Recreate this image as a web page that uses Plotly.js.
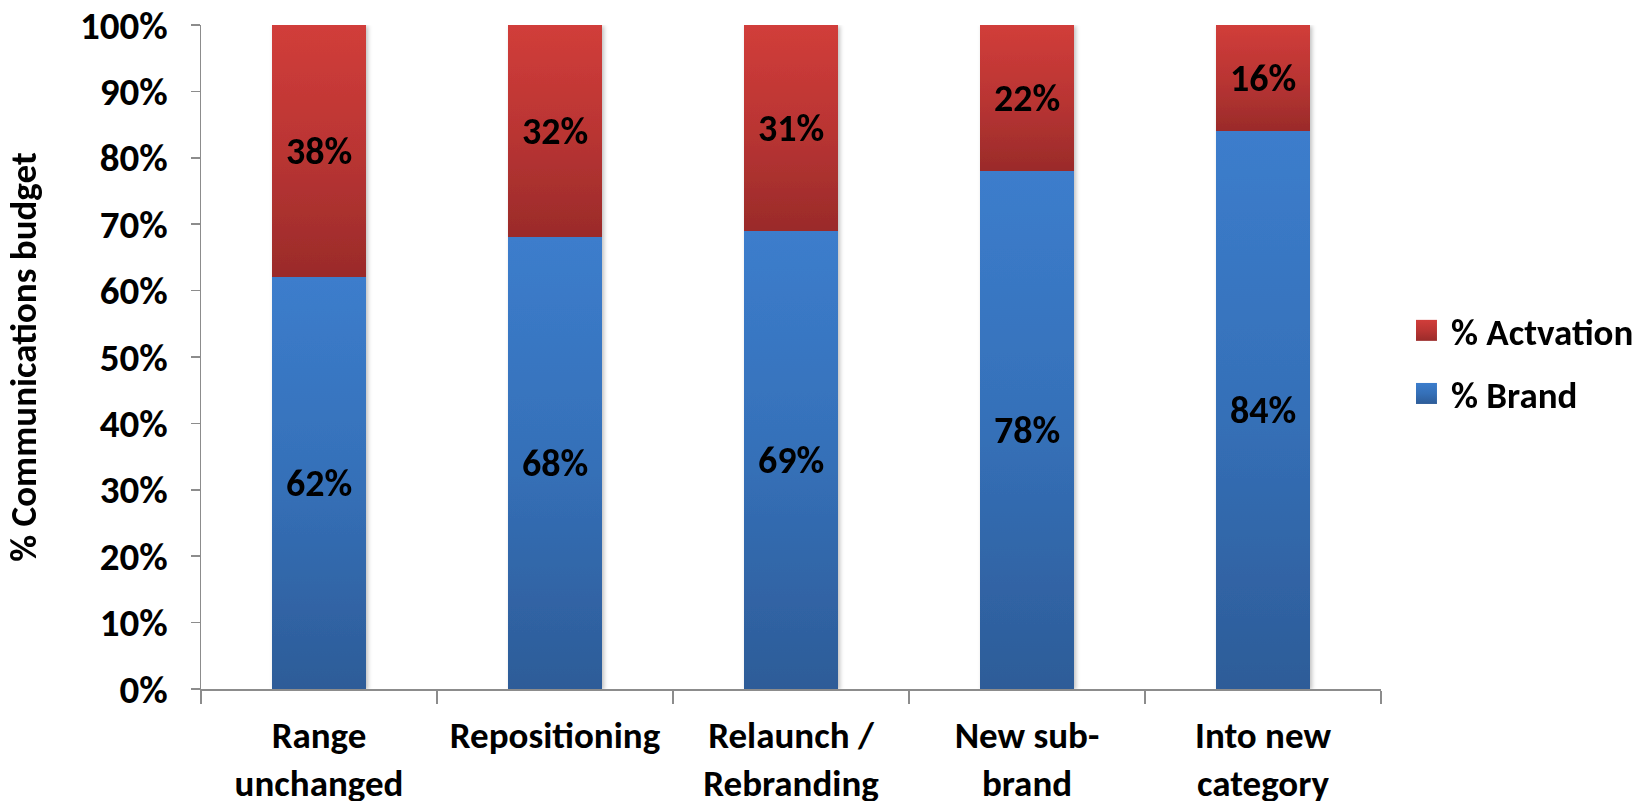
<!DOCTYPE html>
<html>
<head>
<meta charset="utf-8">
<script src="https://cdn.plot.ly/plotly-3.0.1.min.js"></script>
<style>
  html, body { margin: 0; padding: 0; background: #fff; }
  #chart { width: 1633px; height: 801px; }
</style>
</head>
<body>
<div id="chart"></div>
<script>
// Share of the communications budget by launch type
const categories = [
  'Range<br>unchanged',
  'Repositioning',
  'Relaunch /<br>Rebranding',
  'New sub-<br>brand',
  'Into new<br>category'
];
const brandShare = [62, 68, 69, 78, 84];
const activationShare = [38, 32, 31, 22, 16];
const seriesNames = ['% Brand', '% Actvation'];
const yTickValues = [0, 10, 20, 30, 40, 50, 60, 70, 80, 90, 100];

const FONT = 'Carlito, Lato, "Open Sans", sans-serif';
const LEGEND_X = 1.0254;

const labelFont = { family: FONT, size: 38, color: '#000', weight: 700 };

const traces = [
  {
    type: 'bar',
    name: seriesNames[0],
    x: categories,
    y: brandShare,
    legendgroup: 'b',
    legendrank: 2,
    marker: { color: '#3568AE', line: { width: 0 } },
    text: brandShare.map(v => v + '%'),
    textposition: 'inside',
    insidetextanchor: 'middle',
    textangle: 0,
    constraintext: 'none',
    textfont: labelFont,
    hoverinfo: 'skip'
  },
  {
    type: 'bar',
    name: seriesNames[1],
    x: categories,
    y: activationShare,
    legendgroup: 'a',
    legendrank: 1,
    marker: { color: '#B93533', line: { width: 0 } },
    text: activationShare.map(v => v + '%'),
    textposition: 'inside',
    insidetextanchor: 'middle',
    textangle: 0,
    constraintext: 'none',
    textfont: labelFont,
    hoverinfo: 'skip'
  }
];

const layout = {
  width: 1633,
  height: 801,
  margin: { l: 201, r: 252, t: 25, b: 112, pad: 0, autoexpand: false },
  paper_bgcolor: '#fff',
  plot_bgcolor: '#fff',
  barmode: 'stack',
  bargap: 0.6,
  showlegend: true,
  font: { family: FONT, color: '#000' },
  legend: {
    x: LEGEND_X,
    xanchor: 'left',
    y: 0.492,
    yanchor: 'middle',
    traceorder: 'grouped',
    tracegroupgap: 12,
    itemwidth: 30,
    font: { family: FONT, size: 37, color: '#000', weight: 700 },
    bgcolor: 'rgba(0,0,0,0)'
  },
  xaxis: {
    type: 'category',
    showgrid: false,
    zeroline: false,
    showline: true,
    linecolor: '#8C8C8C',
    linewidth: 1.5,
    ticks: 'outside',
    tickson: 'boundaries',
    ticklen: 13,
    tickcolor: '#8C8C8C',
    tickwidth: 1.5,
    ticklabelstandoff: 13,
    tickfont: { family: FONT, size: 37, color: '#000', weight: 700 },
    automargin: false,
    fixedrange: true
  },
  yaxis: {
    range: [0, 100],
    tickvals: yTickValues,
    ticktext: yTickValues.map(v => v + '%'),
    showgrid: false,
    zeroline: false,
    showline: true,
    linecolor: '#8C8C8C',
    linewidth: 1.5,
    ticks: 'outside',
    ticklen: 9,
    tickcolor: '#8C8C8C',
    tickwidth: 1.5,
    ticklabelstandoff: 15,
    tickfont: { family: FONT, size: 39, color: '#000', weight: 700 },
    title: {
      text: '% Communications budget',
      font: { family: FONT, size: 37, color: '#000', weight: 700 },
      standoff: 32
    },
    automargin: false,
    fixedrange: true
  }
};

// Vertical gradients for bar segments and legend swatches, plus a soft shadow
function decorate(gd) {
  const svg = gd.querySelector('svg.main-svg');
  if (!svg) return;
  const ns = 'http://www.w3.org/2000/svg';
  let defs = svg.querySelector('defs');
  if (!defs) { defs = document.createElementNS(ns, 'defs'); svg.insertBefore(defs, svg.firstChild); }
  if (!defs.querySelector('#gradBrand')) {
    const mk = (id, top, mid, bottom) => {
      const g = document.createElementNS(ns, 'linearGradient');
      g.setAttribute('id', id);
      g.setAttribute('x1', '0'); g.setAttribute('y1', '0');
      g.setAttribute('x2', '0'); g.setAttribute('y2', '1');
      [[0, top], [0.5, mid], [1, bottom]].forEach(([o, c]) => {
        const s = document.createElementNS(ns, 'stop');
        s.setAttribute('offset', o);
        s.setAttribute('stop-color', c);
        g.appendChild(s);
      });
      defs.appendChild(g);
    };
    mk('gradBrand', '#3C7DCC', '#3570B8', '#2D5C98');
    mk('gradAct', '#D13D3A', '#BA3533', '#9A2B2A');
    const f = document.createElementNS(ns, 'filter');
    f.setAttribute('id', 'barShadow');
    f.setAttribute('x', '-10%'); f.setAttribute('y', '-5%');
    f.setAttribute('width', '130%'); f.setAttribute('height', '115%');
    const ds = document.createElementNS(ns, 'feDropShadow');
    ds.setAttribute('dx', '2'); ds.setAttribute('dy', '1');
    ds.setAttribute('stdDeviation', '2');
    ds.setAttribute('flood-color', '#000');
    ds.setAttribute('flood-opacity', '0.25');
    f.appendChild(ds);
    defs.appendChild(f);
  }
  const ids = ['gradBrand', 'gradAct'];
  gd.querySelectorAll('.barlayer .trace').forEach((t, i) => {
    t.querySelectorAll('.point path').forEach(p => { p.style.fill = 'url(#' + ids[i] + ')'; });
  });
  const barlayer = gd.querySelector('.barlayer');
  if (barlayer) barlayer.setAttribute('filter', 'url(#barShadow)');

  // Legend: larger square swatches, and keep the block at its requested x
  const legend = gd.querySelector('.legend');
  if (legend) {
    const sz = gd._fullLayout._size;
    const left = sz.l + sz.w * LEGEND_X;
    const m = /translate\(([-\d.]+),\s*([-\d.]+)\)/.exec(legend.getAttribute('transform') || '');
    if (m) legend.setAttribute('transform', 'translate(' + left + ',' + m[2] + ')');
    const sb = legend.querySelector('.scrollbox');
    if (sb) sb.removeAttribute('clip-path');
  }
  gd.querySelectorAll('.legend .traces').forEach(tr => {
    const nameEl = tr.querySelector('.legendtext');
    const name = nameEl ? nameEl.textContent : '';
    const id = name.indexOf('Brand') >= 0 ? 'gradBrand' : 'gradAct';
    tr.querySelectorAll('.legendpoints path').forEach(p => {
      p.setAttribute('d', 'M6,10.5H-15V-10.5H6Z');
      p.style.fill = 'url(#' + id + ')';
      p.style.stroke = 'none';
    });
  });
}

const gd = document.getElementById('chart');
Plotly.newPlot(gd, traces, layout, { displayModeBar: false, staticPlot: true }).then(() => {
  decorate(gd);
  gd.on('plotly_afterplot', () => decorate(gd));
});
</script>
</body>
</html>
